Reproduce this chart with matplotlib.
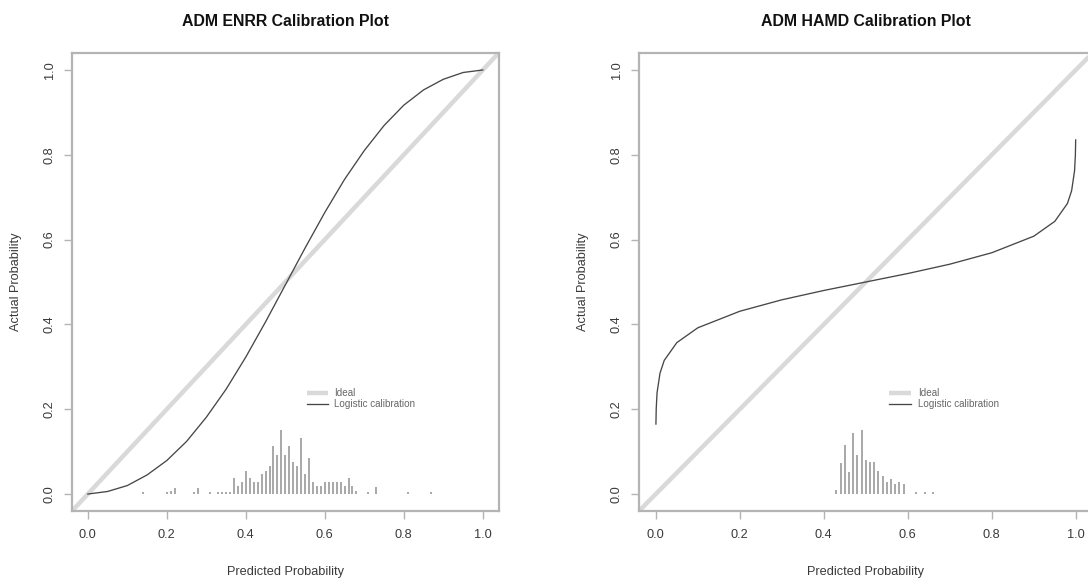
import matplotlib.pyplot as plt

plt.rcParams['font.family'] = ['Liberation Sans', 'DejaVu Sans']

titles = ['ADM ENRR Calibration Plot', 'ADM HAMD Calibration Plot']
x_label = 'Predicted Probability'
y_label = 'Actual Probability'
legend_labels = ['Ideal', 'Logistic calibration']
tick_values = [0.0, 0.2, 0.4, 0.6, 0.8, 1.0]
tick_labels = ['0.0', '0.2', '0.4', '0.6', '0.8', '1.0']
ideal_x = [0, 1]
ideal_y = [0, 1]

# ENRR: logistic calibration curve
enrr_curve_x = [0.0, 0.05, 0.10, 0.15, 0.20, 0.25, 0.30, 0.35, 0.40, 0.45, 0.50,
                0.55, 0.60, 0.65, 0.70, 0.75, 0.80, 0.85, 0.90, 0.95, 1.0]
enrr_curve_y = [0.0, 0.006, 0.020, 0.045, 0.079, 0.124, 0.181, 0.247, 0.323, 0.406, 0.493,
                0.580, 0.664, 0.742, 0.810, 0.869, 0.917, 0.953, 0.978, 0.994, 1.0]

# ENRR: spike histogram of predicted probabilities
enrr_bins = [0.14, 0.20, 0.21, 0.22, 0.27, 0.28, 0.31, 0.33, 0.34, 0.35, 0.36,
             0.37, 0.38, 0.39, 0.40, 0.41, 0.42, 0.43, 0.44, 0.45, 0.46,
             0.47, 0.48, 0.49, 0.50, 0.51, 0.52, 0.53, 0.54, 0.55, 0.56,
             0.57, 0.58, 0.59, 0.60, 0.61, 0.62, 0.63, 0.64, 0.65, 0.66,
             0.67, 0.68, 0.71, 0.73, 0.81, 0.87]
enrr_heights = [0.004, 0.004, 0.006, 0.014, 0.004, 0.014, 0.004, 0.005, 0.005, 0.005, 0.005,
                0.038, 0.018, 0.028, 0.055, 0.038, 0.028, 0.028, 0.047, 0.055, 0.067,
                0.113, 0.093, 0.150, 0.093, 0.113, 0.076, 0.065, 0.132, 0.047, 0.085,
                0.028, 0.020, 0.020, 0.028, 0.028, 0.028, 0.028, 0.028, 0.018, 0.038,
                0.018, 0.006, 0.004, 0.016, 0.004, 0.004]

# HAMD: logistic calibration curve
hamd_curve_x = [0.0003, 0.001, 0.003, 0.01, 0.02, 0.05, 0.10, 0.20, 0.30, 0.40, 0.50,
                0.60, 0.70, 0.80, 0.90, 0.95, 0.98, 0.99, 0.997, 0.999, 0.9997]
hamd_curve_y = [0.165, 0.201, 0.239, 0.285, 0.315, 0.357, 0.392, 0.431, 0.458, 0.480, 0.500,
                0.520, 0.542, 0.569, 0.608, 0.643, 0.685, 0.715, 0.762, 0.799, 0.835]

# HAMD: spike histogram of predicted probabilities
hamd_bins = [0.43, 0.44, 0.45, 0.46, 0.47, 0.48, 0.49, 0.50, 0.51, 0.52,
             0.53, 0.54, 0.55, 0.56, 0.57, 0.58, 0.59, 0.62, 0.64, 0.66]
hamd_heights = [0.010, 0.073, 0.115, 0.052, 0.144, 0.093, 0.150, 0.080, 0.075, 0.075,
                0.054, 0.042, 0.028, 0.035, 0.024, 0.028, 0.024, 0.004, 0.004, 0.004]

W, H = 1088, 579
fig = plt.figure(figsize=(W / 100, H / 100), dpi=100)
# axes boxes in pixels: left, top, width, height
boxes = [(72, 53, 426.6, 458), (639, 53, 453.6, 458)]
panels = [(enrr_curve_x, enrr_curve_y, enrr_bins, enrr_heights),
          (hamd_curve_x, hamd_curve_y, hamd_bins, hamd_heights)]

box_col = '#b4b4b4'
text_col = '#3a3a3a'
ideal_col = '#d9d9d9'
curve_col = '#474747'

for (l, t, w, h), title, (cx, cy, bx, bh) in zip(boxes, titles, panels):
    ax = fig.add_axes([l / W, 1 - (t + h) / H, w / W, h / H])
    ax.set_xlim(-0.04, 1.04)
    ax.set_ylim(-0.04, 1.04)

    ax.axline((ideal_x[0], ideal_y[0]), (ideal_x[1], ideal_y[1]),
              color=ideal_col, lw=3.2, solid_capstyle='butt', zorder=1)
    ax.plot(cx, cy, color=curve_col, lw=0.95, zorder=3)
    ax.vlines(bx, 0, bh, colors='#a8a8a8', lw=1.4, zorder=2)

    # legend drawn by hand to match R's small legend
    ax.plot([0.555, 0.607], [0.239, 0.239], color=ideal_col, lw=3.2, solid_capstyle='butt')
    ax.plot([0.555, 0.607], [0.213, 0.213], color=curve_col, lw=0.95)
    ax.text(0.624, 0.239, legend_labels[0], fontsize=7.1, color='#666666', va='center')
    ax.text(0.624, 0.213, legend_labels[1], fontsize=7.1, color='#666666', va='center')

    for s in ax.spines.values():
        s.set_color(box_col)
        s.set_linewidth(1.6)
    ax.set_xticks(tick_values)
    ax.set_xticklabels(tick_labels)
    ax.set_yticks(tick_values)
    ax.set_yticklabels(tick_labels, rotation=90, va='center')
    ax.tick_params(direction='out', length=5.8, width=1.0, color=box_col,
                   labelsize=9.2, labelcolor=text_col)
    ax.tick_params(axis='x', pad=7)
    ax.tick_params(axis='y', pad=6)

    ax.text(0.5, 1 + 32 / h, title, transform=ax.transAxes, ha='center', va='center',
            fontsize=11.4, fontweight='bold', color='#111111')
    ax.text(0.5, -61 / h, x_label, transform=ax.transAxes, ha='center', va='center',
            fontsize=9.2, color=text_col)
    ax.text(-56 / w, 0.5, y_label, transform=ax.transAxes, ha='center', va='center',
            rotation=90, fontsize=9.2, color=text_col)

fig.savefig('out.png', dpi=100)
